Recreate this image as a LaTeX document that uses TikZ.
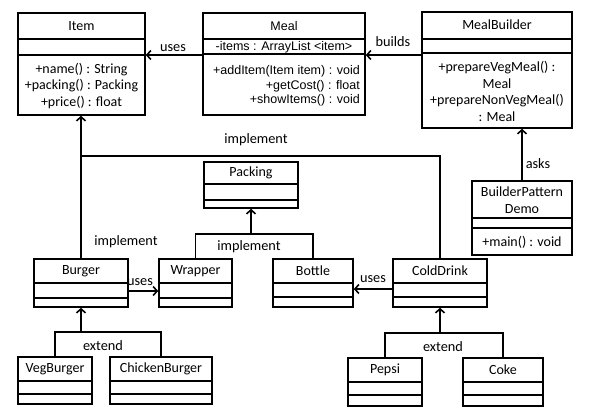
\documentclass[tikz,border=0pt]{standalone}
\usepackage{fontspec}
\setmainfont{Carlito}
\newfontfamily\arialf{Liberation Sans}
\usetikzlibrary{arrows.meta}
\newcommand{\umlbox}[7]{%
  \node[clsbox, minimum width={#4-#2}, minimum height={#5-#3}] (#1) at ({(#2+#4)/2},{(#3+#5)/2}) {};
  \draw[clsline] (#2,#6) -- (#4,#6);
  \draw[clsline] (#2,#7) -- (#4,#7);
}
\begin{document}
\begin{tikzpicture}[x=1pt,y=-1pt,
  clsbox/.style={draw, line width=1.6pt, inner sep=0pt},
  clsline/.style={line width=1.6pt},
  conn/.style={line width=1.6pt},
  arr/.style={line width=1.6pt, -{Straight Barb[length=4pt,width=9pt]}},
  txt/.style={inner sep=0pt, font=\fontsize{14}{16.5}\selectfont},
  mtxt/.style={inner sep=0pt, font=\arialf\fontsize{12.5}{14.5}\selectfont},
  lbl/.style={inner sep=0pt, font=\fontsize{14.3}{16.5}\selectfont}]
\fill[white] (0,0) rectangle (603,416);
\useasboundingbox (0,0) rectangle (603,416);

% boxes
\umlbox{item}{18}{13}{145}{115}{39}{55}
\umlbox{meal}{203}{13}{365}{115}{39}{54}
\umlbox{mealbuilder}{422}{12}{572}{128}{39}{53}
\umlbox{bpd}{472}{181}{572}{255}{218}{228}
\umlbox{packing}{204}{162}{298}{208}{184}{200}
\umlbox{burger}{34}{259}{128}{307}{283}{298}
\umlbox{wrapper}{159}{259}{232}{307}{283}{298}
\umlbox{bottle}{273}{259}{353}{307}{283}{297}
\umlbox{colddrink}{393}{259}{487}{307}{283}{297}
\umlbox{vegburger}{18}{357}{92}{404}{381}{394}
\umlbox{chickenburger}{110}{357}{212}{404}{381}{394}
\umlbox{pepsi}{348}{358}{422}{406}{382}{395}
\umlbox{coke}{463}{358}{543}{406}{382}{395}

% box texts
\node[txt] (itemname) at (81.5,26) {Item};
\node[txt, align=center] (itemops) at (81.5,86) {+name() : String\\+packing() : Packing\\+price() : float};
\node[mtxt] (mealname) at (284,26) {Meal};
\node[mtxt] (mealattr) at (284,47) {-items : ArrayList <item>};
\node[mtxt, align=right, anchor=east] (mealops) at (360,86) {+addItem(Item item) : void\\+getCost() : float\\+showItems() : void};
\node[txt] (mbname) at (497,25) {MealBuilder};
\node[txt, align=center] (mbops) at (497,91.5) {+prepareVegMeal() :\\Meal\\+prepareNonVegMeal()\\: Meal};
\node[txt, align=center] (bpdname) at (522,200) {BuilderPattern\\Demo};
\node[txt] (bpdops) at (522,242) {+main() : void};
\node[txt] (packingname) at (251,173) {Packing};
\node[txt] (burgername) at (81,271) {Burger};
\node[txt] (wrappername) at (195.5,271) {Wrapper};
\node[txt] (bottlename) at (313,271) {Bottle};
\node[txt] (colddrinkname) at (440,271) {ColdDrink};
\node[txt] (vegburgername) at (55,369) {VegBurger};
\node[txt] (chickenburgername) at (161,369) {ChickenBurger};
\node[txt] (pepsiname) at (385,370) {Pepsi};
\node[txt] (cokename) at (503,370) {Coke};

% connectors
\draw[arr] ([yshift=9pt]meal.west) -- ([yshift=9pt]meal.west -| item.east);
\draw[arr] ([yshift=15pt]mealbuilder.west) -- ([yshift=15pt]mealbuilder.west -| meal.east);
\draw[arr] (bpd.north) -- (bpd.north |- mealbuilder.south);

\coordinate (impl) at (81,156);
\draw[arr] (burger.north) -- (burger.north |- item.south);
\draw[conn] (colddrink.north) |- (burger.north |- impl);

\coordinate (pkj) at (251,234);
\draw[conn] (wrapper.north) |- (bottle.north |- pkj) -- (bottle.north);
\draw[arr] (packing.south |- pkj) -- (packing.south);

\draw[arr] ([yshift=-8pt]burger.east) -- ([yshift=-8pt]burger.east -| wrapper.west);
\draw[arr] ([yshift=-6pt]colddrink.west) -- ([yshift=-6pt]colddrink.west -| bottle.east);

\coordinate (exl) at (81,332);
\draw[conn] (vegburger.north) |- (chickenburger.north |- exl) -- (chickenburger.north);
\draw[arr] (burger.south |- exl) -- (burger.south);

\coordinate (exr) at (440,333);
\draw[conn] (pepsi.north) |- (coke.north |- exr) -- (coke.north);
\draw[arr] (colddrink.south |- exr) -- (colddrink.south);

% labels
\node[lbl] (uses1) at (173,48) {uses};
\node[lbl] (builds) at (393,42) {builds};
\node[lbl] (asks) at (538,164) {asks};
\node[lbl] (impl1) at (256,140) {implement};
\node[lbl] (impl2) at (126,242) {implement};
\node[lbl] (impl3) at (249,247) {implement};
\node[lbl] (uses2) at (140,282) {uses};
\node[lbl] (uses3) at (373,279) {uses};
\node[lbl] (ext1) at (103,346) {extend};
\node[lbl] (ext2) at (443,347) {extend};
\end{tikzpicture}
\end{document}
